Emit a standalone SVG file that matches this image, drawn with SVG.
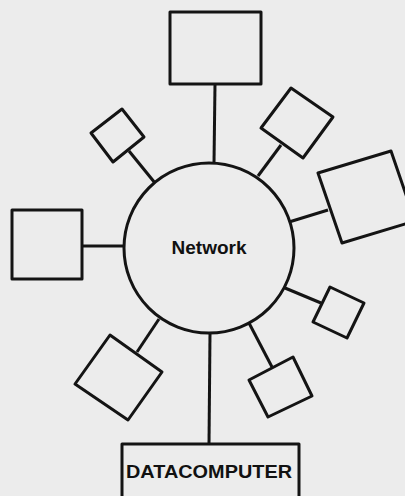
<svg xmlns="http://www.w3.org/2000/svg" width="405" height="496" viewBox="0 0 405 496">
<style>
.s{fill:none;stroke:#141414;stroke-width:3;stroke-linejoin:round}
.c{fill:none;stroke:#141414;stroke-width:3}
.t{font-family:"Liberation Sans",Arial,sans-serif;font-weight:bold;font-size:19px;fill:#111}
</style>
<rect width="405" height="496" fill="#ececec"/>
<g id="connectors">
<line class="c" x1="215" y1="84" x2="214" y2="163"/>
<line class="c" x1="129" y1="151" x2="155" y2="183"/>
<line class="c" x1="281" y1="145" x2="258" y2="176"/>
<line class="c" x1="328" y1="210" x2="289" y2="222"/>
<line class="c" x1="82" y1="246" x2="124" y2="246"/>
<line class="c" x1="321" y1="303" x2="285" y2="288"/>
<line class="c" x1="272" y1="367" x2="249" y2="323"/>
<line class="c" x1="137" y1="352" x2="159" y2="319"/>
<line class="c" x1="210" y1="333" x2="209" y2="444"/>
</g>
<g id="network">
<circle class="s" cx="209" cy="248" r="85"/>
<text class="t" x="209" y="254" text-anchor="middle">Network</text>
</g>
<g id="top-box"><rect class="s" x="170" y="12" width="91" height="72"/></g>
<g id="upper-left"><polygon class="s" points="122,109 144,137 113,162 91,133"/></g>
<g id="upper-right"><polygon class="s" points="291,88 333,117 303,158 261,128"/></g>
<g id="right-box"><polygon class="s" points="318,173 391,151 415,221 342,243"/></g>
<g id="left-box"><rect class="s" x="12" y="210" width="70" height="69"/></g>
<g id="lower-right-small"><polygon class="s" points="330,287 364,303 347,338 313,322"/></g>
<g id="bottom-right"><polygon class="s" points="249,380 293,357 312,396 268,417"/></g>
<g id="bottom-left"><polygon class="s" points="110,335 162,372 128,420 75,384"/></g>
<g id="datacomputer">
<rect class="s" x="122" y="444" width="177" height="60"/>
<text class="t" x="209" y="478" text-anchor="middle" textLength="166" lengthAdjust="spacingAndGlyphs">DATACOMPUTER</text>
</g>
</svg>
